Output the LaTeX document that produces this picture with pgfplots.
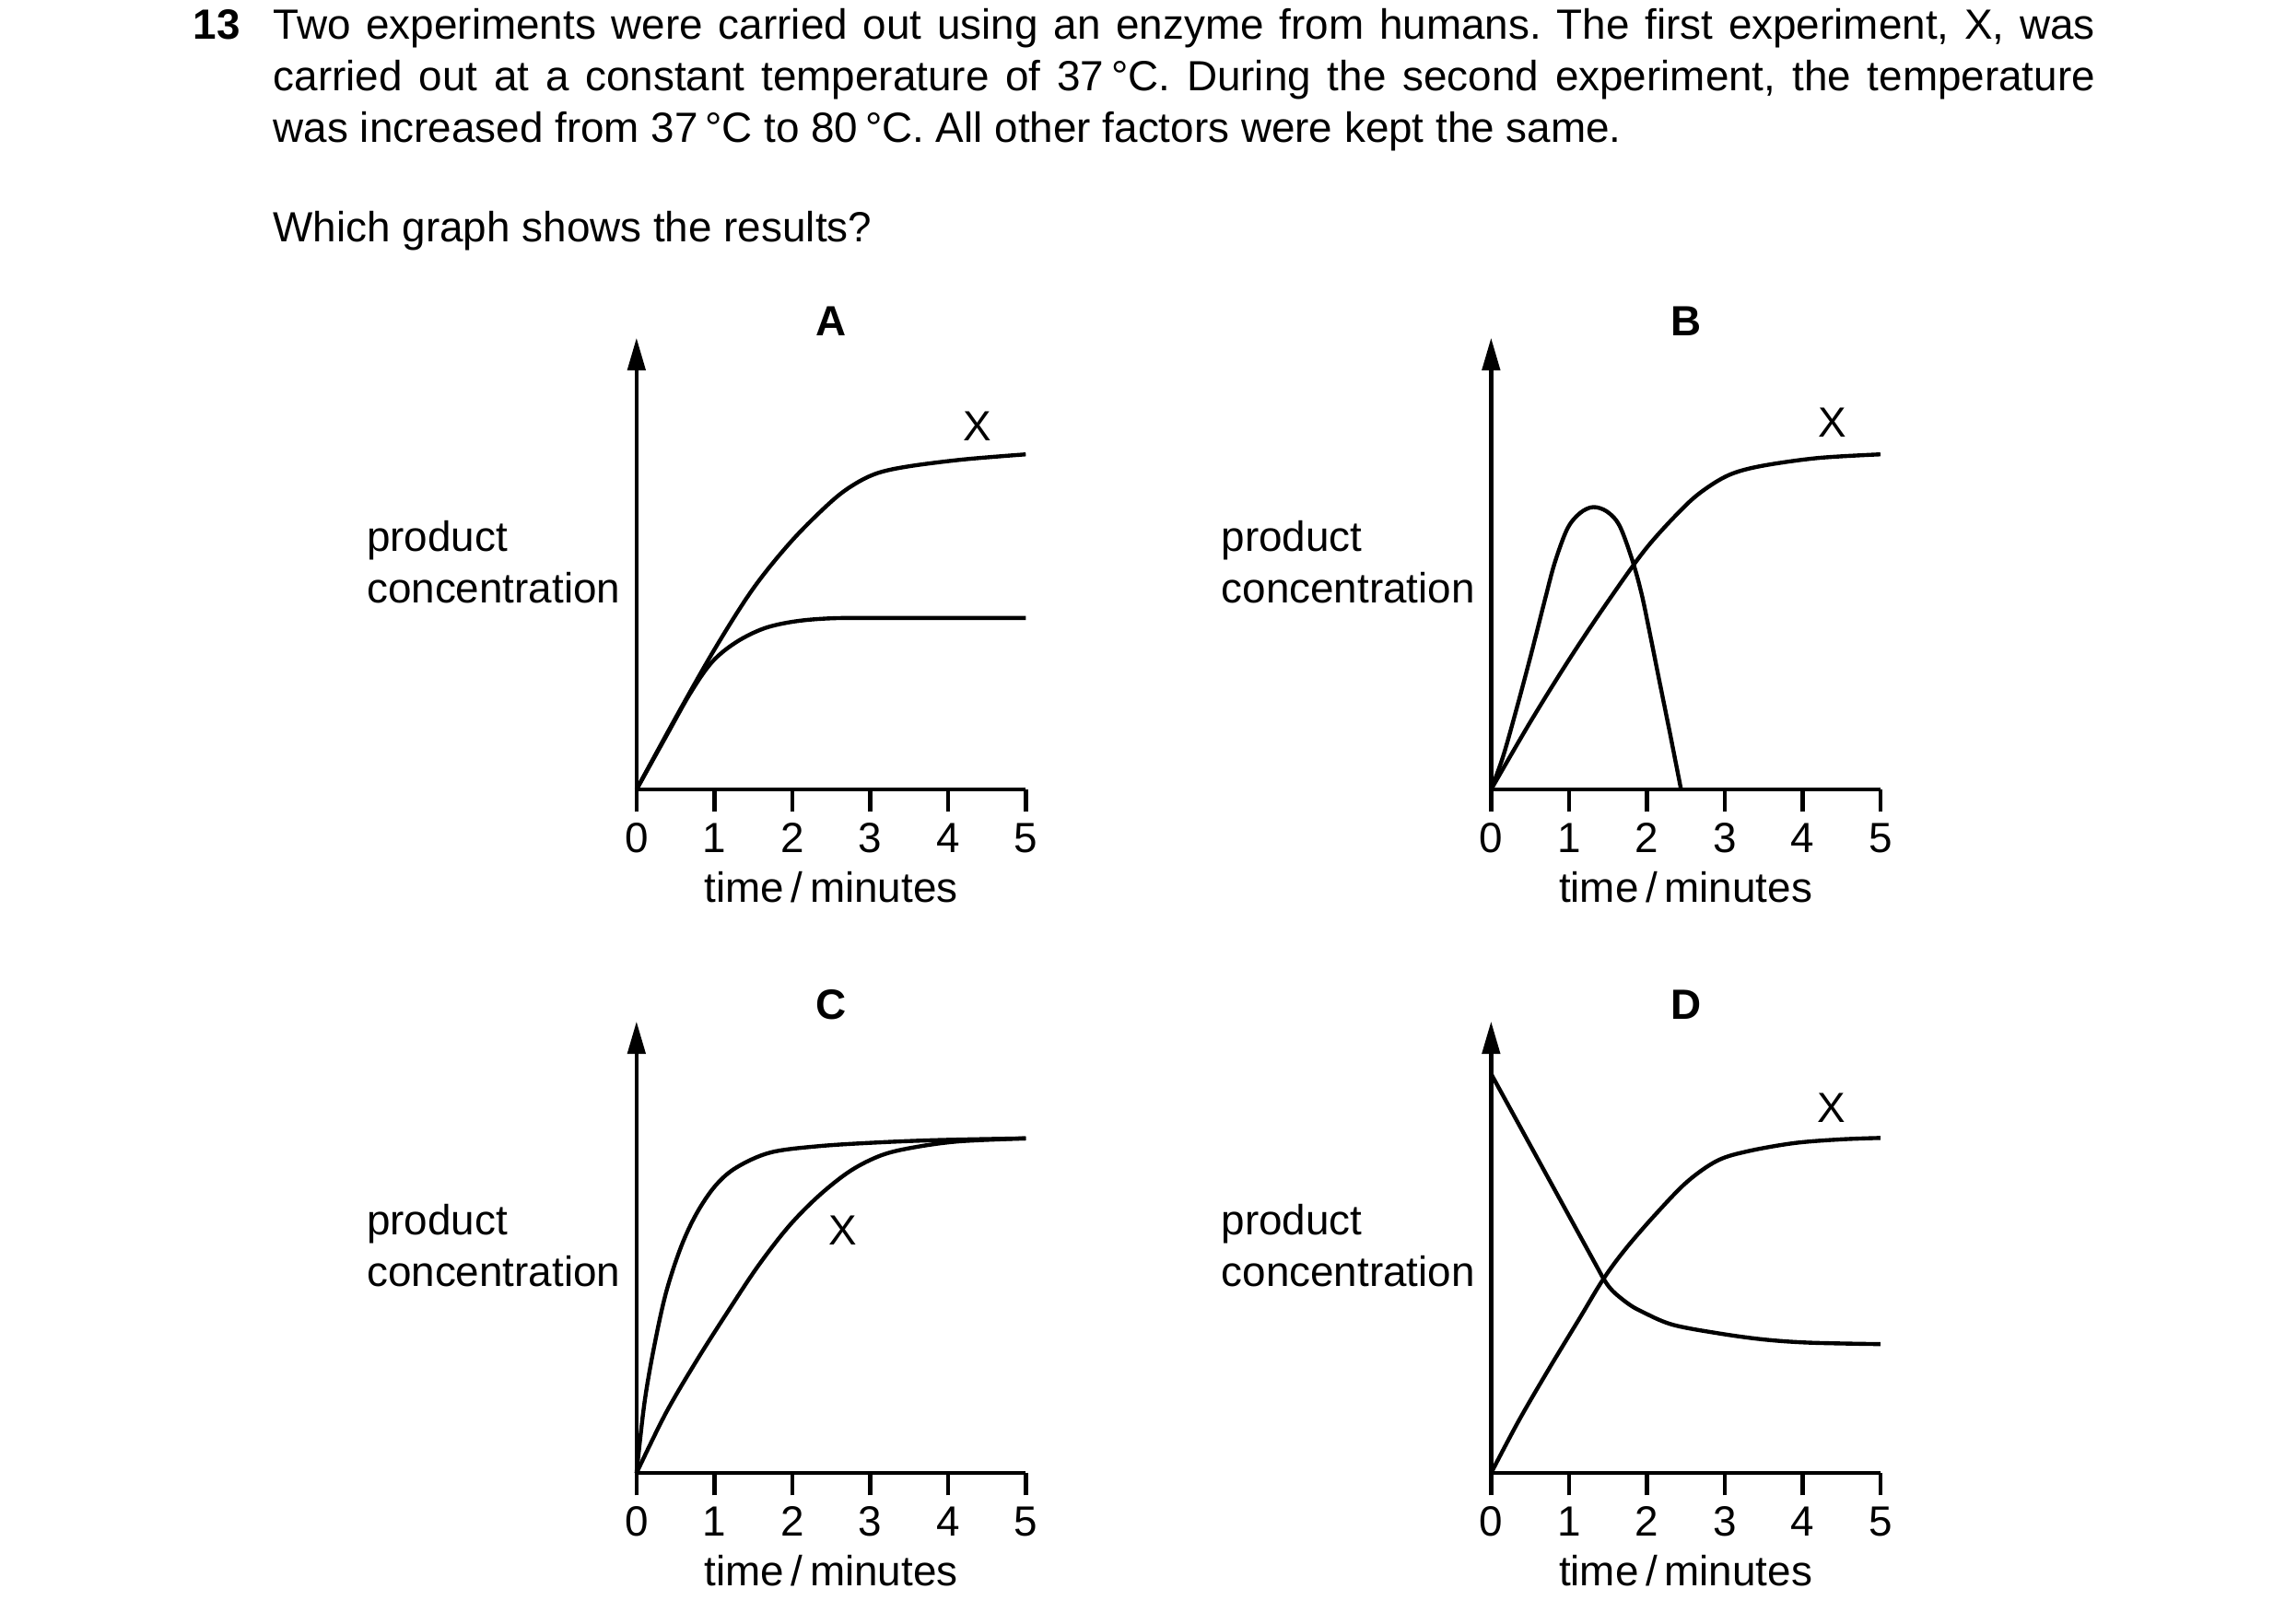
\documentclass[border=0pt]{standalone}
\usepackage{fontspec}
\setmainfont{Liberation Sans}
\usepackage{pgfplots}
\pgfplotsset{compat=1.18}
\usetikzlibrary{arrows.meta}
\newcommand\f{\fontsize{11pt}{13.4pt}\selectfont}
\frenchspacing

\pgfplotsset{panel/.style={
  anchor=south west, scale only axis, width=101.4pt, height=117.7pt,
  xmin=0, xmax=5, ymin=0, ymax=310,
  axis lines*=left,
  axis line style={line width=1.05pt, black},
  y axis line style={-{Triangle[length=8.5pt,width=4.6pt]}},
  xtick={0,1,2,3,4,5}, xticklabels={0,1,2,3,4,5}, ytick=\empty,
  tick align=outside, major tick length=5.8pt,
  every tick/.style={black, line width=1.05pt},
  xticklabel style={font=\f, inner sep=0pt, anchor=base, yshift=-10.6pt},
  clip=false,
  cycle list={{black, mark=none, line width=1.05pt, smooth}},
},
curve/.style={black, mark=none, line width=1.05pt, smooth, tension=0.55}}

\newcommand\panelbits[1]{%
  \node[font=\f\bfseries, anchor=base, inner sep=0pt] at (axis cs:2.5,0) [yshift=118.3pt] {#1};
  \node[font=\f, anchor=base, inner sep=0pt] at (axis cs:2.5,0) [yshift=-29.3pt] {time\,/\,minutes};
  \node[font=\f, align=left, anchor=east, inner sep=0pt] at (axis cs:0,156) [xshift=-4pt] {product\\concentration};
}

\begin{document}
\begin{tikzpicture}
\useasboundingbox (0,0) rectangle (595.2pt,-423.12pt);

% question text
\node[anchor=base west, inner sep=0pt, font=\f\bfseries] at (50.1pt,-10.3pt) {13};
\node[anchor=base west, inner sep=0pt, font=\f] at (71.0pt,-10.3pt)
 {\parbox[t]{474.6pt}{\f\frenchspacing Two experiments were carried out using an enzyme from humans. The first experiment, X, was\linebreak
 carried out at a constant temperature of 37\,°C. During the second experiment, the temperature\linebreak
 was increased from 37\,°C to 80\,°C. All other factors were kept the same.}};
\node[anchor=base west, inner sep=0pt, font=\f] at (71.0pt,-63.0pt) {Which graph shows the results?};

% ---------- A ----------
\begin{axis}[panel, at={(165.8pt,-205.7pt)}]
\addplot[curve] coordinates {(0,0) (0.5,49) (1.0,96) (1.5,138) (2.0,171) (2.5,197.5) (2.8,209.5) (3.1,217.2) (3.5,221.8) (4.2,226.5) (5,230)};
\addplot[curve] coordinates {(0,0) (0.375,36) (0.69,66) (0.97,87.5) (1.28,101.1) (1.64,110.6) (2.04,115.4) (2.51,117.5) (3.14,117.7) (5,117.7)};
\node[font=\f, inner sep=0pt] at (axis cs:4.38,249) {X};
\panelbits{A}
\end{axis}

% ---------- B ----------
\begin{axis}[panel, at={(388.4pt,-205.7pt)}]
\addplot[curve] coordinates {(0,0) (0.5,46) (1.0,89) (1.5,129) (2.0,166) (2.5,195) (2.8,208) (3.1,216.8) (3.5,222.3) (4.2,227.5) (5,230)};
\addplot[curve] coordinates {(0,0) (0.15,22) (0.31,52) (0.51,92) (0.70,132) (0.82,156) (0.98,179) (1.14,189.6) (1.31,193.8) (1.49,190.7) (1.65,181) (1.81,158) (1.93,135) (2.04,107) (2.16,75) (2.30,38) (2.44,0)};
\node[font=\f, inner sep=0pt] at (axis cs:4.39,252) {X};
\panelbits{B}
\end{axis}

% ---------- C ----------
\begin{axis}[panel, at={(165.8pt,-383.8pt)}]
\addplot[curve] coordinates {(0,0) (0.1,47.4) (0.22,85) (0.375,123) (0.57,155) (0.77,178) (1.01,197) (1.28,209.6) (1.72,220) (2.35,224.4) (3.14,227) (3.93,228.6) (5,229.7)};
\addplot[curve] coordinates {(0,0) (0.375,41) (0.77,77) (1.17,110.6) (1.56,142) (1.96,169.6) (2.35,190.7) (2.75,207.5) (3.14,218) (3.54,223.3) (4.13,227.6) (5,229.7)};
\node[font=\f, inner sep=0pt] at (axis cs:2.65,166.5) {X};
\panelbits{C}
\end{axis}

% ---------- D ----------
\begin{axis}[panel, at={(388.4pt,-383.8pt)}]
\addplot[curve] coordinates {(0,274) (0.7,205.8) (1.34,143.5) (1.44,133.8) (1.52,127.5) (1.61,122.6) (1.77,115.9) (1.93,111) (2.32,102) (2.91,96) (3.5,91.7) (4.09,89.5) (5,88.5)};
\addplot[curve] coordinates {(0,0) (0.354,35.8) (0.744,71.6) (1.14,106.5) (1.44,133) (1.73,154) (2.12,178) (2.52,200) (2.91,214.5) (3.31,221) (3.9,226.5) (4.49,229) (5,230)};
\node[font=\f, inner sep=0pt] at (axis cs:4.37,250.7) {X};
\panelbits{D}
\end{axis}
\end{tikzpicture}
\end{document}
